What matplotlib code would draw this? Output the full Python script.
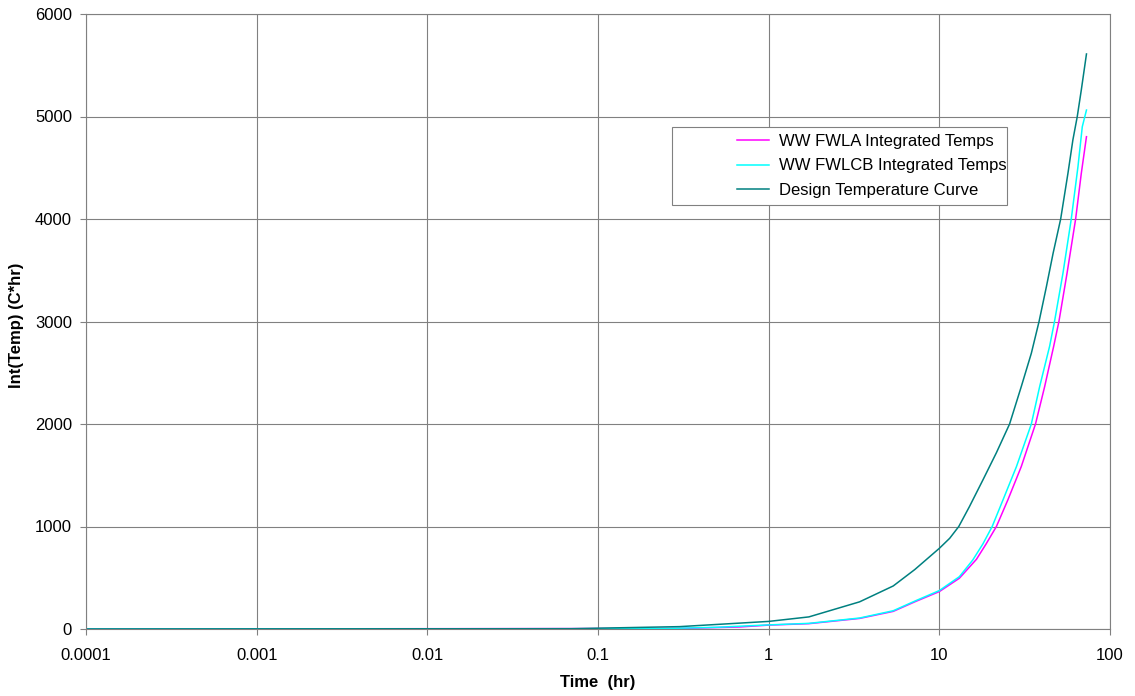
import matplotlib
matplotlib.use("Agg")
import matplotlib.pyplot as plt
from matplotlib.patches import Rectangle
from matplotlib.ticker import FixedLocator, FixedFormatter, NullLocator

plt.rcParams['font.family'] = ['Liberation Sans', 'DejaVu Sans']

# ---- data ----
x_ticks = [0.0001, 0.001, 0.01, 0.1, 1, 10, 100]
x_tick_labels = ['0.0001', '0.001', '0.01', '0.1', '1', '10', '100']
y_ticks = [0, 1000, 2000, 3000, 4000, 5000, 6000]

fwla_t = [0.0001, 0.3, 0.68, 1.0, 1.72, 3.41, 5.37, 7.18, 10.0, 13.1, 16.5,
          18.8, 21.6, 25.2, 30.2, 36.6, 41.4, 46.8, 50.2, 56.0, 62.9, 67.9, 72.8]
fwla_v = [0, 5, 20, 38, 52, 103, 172, 265, 365, 495, 680,
          830, 1000, 1259, 1584, 2000, 2364, 2760, 3000, 3470, 4000, 4446, 4803]

fwlcb_t = [0.0001, 0.23, 0.5, 1.0, 1.72, 3.41, 5.37, 7.18, 10.0, 13.1, 15.7,
           18.0, 20.4, 23.6, 28.3, 34.6, 38.7, 44.3, 47.3, 53.0, 59.3, 64.9,
           68.8, 72.8]
fwlcb_v = [0, 3, 17, 40, 55, 107, 178, 272, 375, 510, 673,
           830, 1000, 1259, 1584, 2000, 2364, 2760, 3000, 3470, 4000, 4510,
           4900, 5063]

design_t = [0.0001, 0.07, 0.1, 0.3, 1.0, 1.72, 3.41, 5.37, 7.18, 10.0, 11.5,
            13.0, 15.0, 18.0, 21.6, 25.8, 30.2, 34.6, 38.4, 42.4, 46.4, 51.4,
            56.7, 60.6, 64.3, 67.9, 72.8]
design_v = [0, 3, 8, 23, 74, 118, 265, 420, 580, 787, 885,
            1000, 1193, 1454, 1720, 2000, 2364, 2690, 3000, 3340, 3665, 4000,
            4446, 4771, 5000, 5259, 5610]

labels = ['WW FWLA Integrated Temps', 'WW FWLCB Integrated Temps',
          'Design Temperature Curve']
colors = ['#FF00FF', '#00FFFF', '#008080']

W, H = 1135, 696
fig = plt.figure(figsize=(W / 100, H / 100), dpi=100)
L, R, T, B = 86, 1110, 14, 629
ax = fig.add_axes([L / W, 1 - B / H, (R - L) / W, (B - T) / H])

ax.plot(fwla_t, fwla_v, color=colors[0], lw=1.1, label=labels[0])
ax.plot(fwlcb_t, fwlcb_v, color=colors[1], lw=1.1, label=labels[1])
ax.plot(design_t, design_v, color=colors[2], lw=1.1, label=labels[2])

ax.set_xscale('log')
ax.set_xlim(0.0001, 100)
ax.set_ylim(0, 6000)
ax.xaxis.set_major_locator(FixedLocator(x_ticks))
ax.xaxis.set_major_formatter(FixedFormatter(x_tick_labels))
ax.xaxis.set_minor_locator(NullLocator())
ax.set_yticks(y_ticks)
ax.set_yticklabels([str(v) for v in y_ticks])

ax.grid(True, which='major', color='#808080', lw=0.8)
ax.set_axisbelow(True)
for s in ax.spines.values():
    s.set_color('#808080')
    s.set_linewidth(0.8)

ax.tick_params(axis='both', colors='#808080', labelcolor='black',
               labelsize=12, length=4.5, width=0.8, direction='out')
ax.tick_params(axis='x', pad=9)
ax.tick_params(axis='y', pad=5.5)

ax.set_xlabel('Time  (hr)', fontsize=12, fontweight='bold')
ax.xaxis.set_label_coords(0.5, (B - 683) / (B - T))
ax.xaxis.label.set_va('center')
ax.set_ylabel('Int(Temp) (C*hr)', fontsize=12, fontweight='bold')
ax.yaxis.set_label_coords((17 - L) / (R - L), 0.5 - (325 - (B + T) / 2) / (B - T))
ax.yaxis.label.set_va('center')

# legend frame
fig.patches.append(Rectangle((672 / W, 1 - 205 / H), (1007 - 672) / W, (205 - 127) / H,
                             transform=fig.transFigure, fill=True, facecolor='white',
                             edgecolor='#808080', lw=0.8, zorder=5))
leg = fig.legend(loc='upper left', bbox_to_anchor=(737 / W, 1 - 134 / H),
                 frameon=False, fontsize=12, handlelength=1.92, handletextpad=0.6,
                 borderpad=0, borderaxespad=0, labelspacing=0.56)
leg.set_zorder(6)

fig.savefig('out.png', dpi=100)
